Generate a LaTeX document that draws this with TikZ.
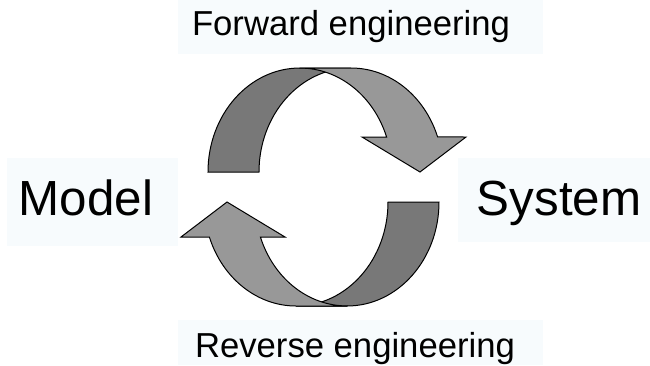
\documentclass[tikz,border=0pt]{standalone}
\usepackage{fontspec}
\setmainfont{Liberation Sans}
\definecolor{boxfill}{RGB}{247,251,253}
\definecolor{bandback}{RGB}{120,120,120}
\definecolor{bandfront}{RGB}{152,152,152}
\begin{document}
\begin{tikzpicture}[x=0.75pt,y=-0.75pt,
    band/.style={draw=black,line width=0.75pt},
    lbl/.style={inner sep=0pt,anchor=base,font=\fontsize{26}{30}\selectfont},
    big/.style={inner sep=0pt,anchor=base,font=\fontsize{37}{42}\selectfont}]
    \useasboundingbox (0,0) rectangle (650,365);
    % pale label backgrounds
    \fill[boxfill] (178,0) rectangle (543,54);
    \fill[boxfill] (178,320) rectangle (543,365);
    \fill[boxfill] (7,158) rectangle (178,246);
    \fill[boxfill] (458,158) rectangle (650,242);

    \node[lbl] (fwd) at (351,35) {Forward engineering};
    \node[lbl] (rev) at (355,357) {Reverse engineering};
    \node[big] (model) at (86,215) {Model};
    \node[big] (system) at (559,215) {System};

    % twisted ribbon arrows, the lower one is the upper one turned round
    \foreach \ang in {0,180} {
      \begin{scope}[rotate around={\ang:(323.5,187)}]
        \draw[band,fill=bandback] (208,172)
          arc[start angle=180,end angle=270,x radius=92,y radius=104]
          -- (351,68) arc[start angle=270,end angle=180,x radius=92,y radius=104] -- cycle;
        \draw[band,fill=bandfront] (300,68) -- (351,68)
          arc[start angle=270,end angle=340.3,x radius=92,y radius=104]
          -- (466,137) -- (420,172) -- (362,137) -- (386.6,137)
          arc[start angle=340.3,end angle=270,x radius=92,y radius=104] -- cycle;
      \end{scope}
    }
\end{tikzpicture}
\end{document}
